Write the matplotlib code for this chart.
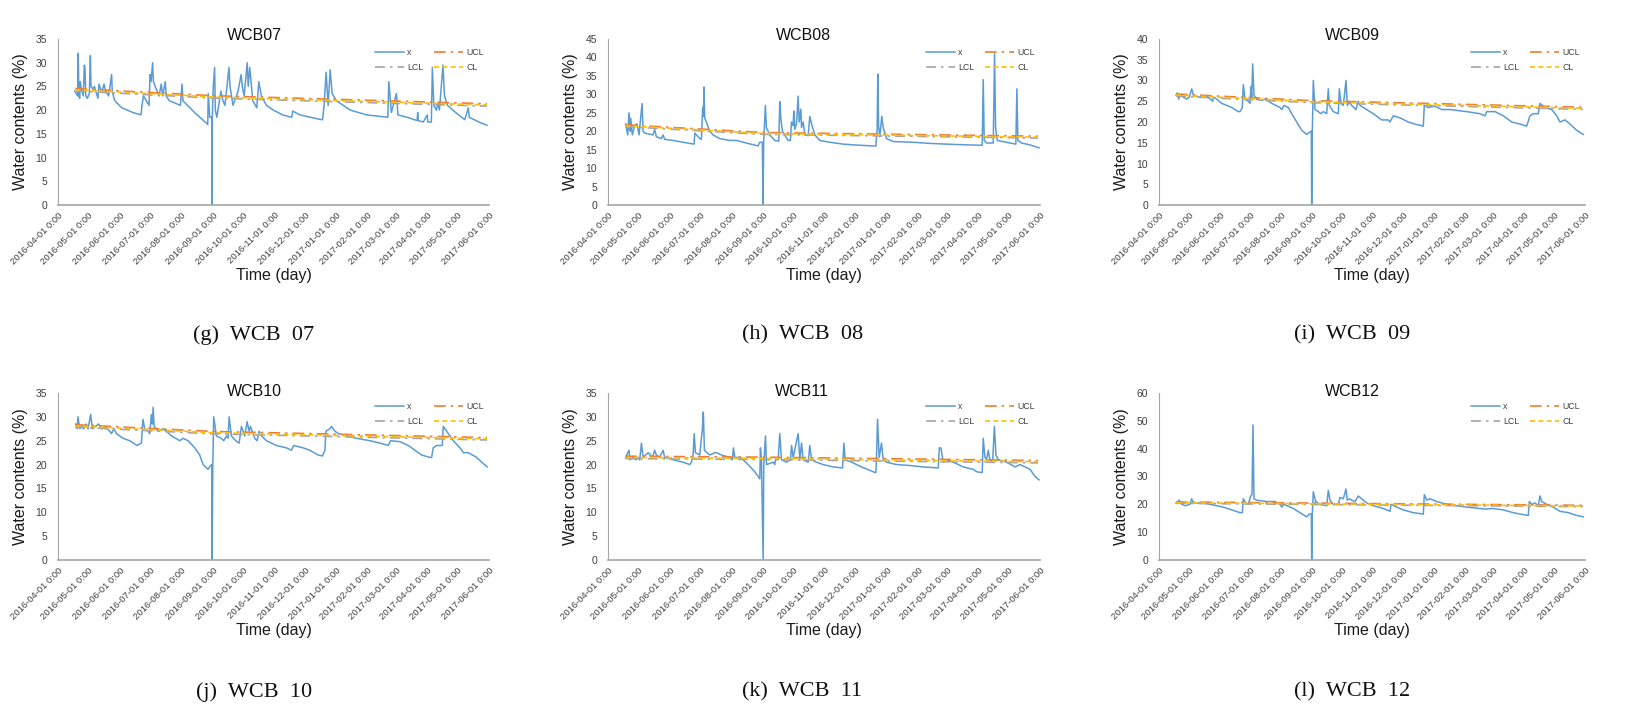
import numpy as np
import matplotlib
matplotlib.use("Agg")
import matplotlib.pyplot as plt

plt.rcParams['font.family'] = ['Liberation Sans', 'DejaVu Sans']

W, H = 1637, 723
t0 = np.datetime64('2016-04-01T00:00')

month_ticks = ['2016-04-01', '2016-05-01', '2016-06-01', '2016-07-01', '2016-08-01',
               '2016-09-01', '2016-10-01', '2016-11-01', '2016-12-01', '2017-01-01',
               '2017-02-01', '2017-03-01', '2017-04-01', '2017-05-01', '2017-06-01']

# days since 2016-04-01, water content (%)
wcb07_days = [16.5, 19.5, 20.0, 20.6, 21.5, 22.0, 23, 25, 26, 26.6, 27.5, 29, 31, 32, 32.6, 34.5, 36, 38,
              39.5, 40.5, 42, 43.5, 45.5, 47, 50, 53, 53.6, 56, 63, 74, 82, 83, 84.5, 90, 91, 92, 93.5,
              94.3, 97, 100, 102, 103.5, 106, 107, 110, 121, 122.6, 123.4, 135, 148, 148.5, 150, 152,
              152.3, 152.6, 153.5, 154.8, 155.5, 157, 161, 163, 165, 169, 170, 173, 178, 181, 182.5,
              184, 187, 188, 189.5, 192.5, 196.5, 198.5, 201, 206, 213, 222, 231, 232, 239, 260,
              261.5, 263, 265, 267, 269, 271, 275, 289, 305, 326, 327, 329.5, 334.5, 336, 345, 355,
              355.5, 356, 361, 365, 365.5, 369, 370, 371.5, 374, 375.5, 377, 380.5, 382, 385, 393,
              402, 403.5, 405.5, 406.5, 416, 424]
wcb07_vals = [24.0, 23.0, 32.0, 23.0, 22.5, 26.0, 24.5, 23.0, 29.5, 29.0, 23.0, 22.5, 23.5, 31.5, 25.0,
              24.5, 25.0, 23.5, 22.5, 25.5, 24.5, 24.0, 25.5, 24.0, 23.0, 27.5, 24.0, 22.0, 20.5, 19.5,
              19.0, 21.0, 23.0, 21.0, 27.5, 26.0, 30.0, 26.0, 24.5, 23.0, 25.5, 23.0, 26.0, 23.0, 22.0,
              21.0, 25.5, 22.0, 19.5, 17.0, 23.5, 18.5, 18.5, 0.0, 19.0, 25.0, 29.0, 20.0, 18.5, 24.0,
              22.0, 21.0, 29.0, 25.0, 21.0, 24.0, 27.5, 24.5, 23.0, 30.0, 25.0, 29.0, 22.0, 20.5, 26.0,
              23.0, 21.0, 20.0, 19.0, 18.5, 19.8, 19.0, 18.0, 18.0, 21.0, 28.0, 21.0, 28.5, 23.5, 22.0,
              20.0, 19.0, 18.5, 26.0, 19.5, 23.5, 19.0, 18.5, 17.8, 19.5, 17.8, 17.5, 19.0, 17.5, 17.5,
              29.0, 21.0, 20.0, 21.5, 20.0, 29.5, 23.0, 21.0, 19.5, 18.0, 19.0, 20.5, 18.5, 17.5, 16.8]

wcb08_days = [17.4, 19.5, 20.7, 22.0, 22.4, 24.0, 26.3, 28.6, 30.6, 33.6, 34.6, 36.2, 44.4, 46.0, 47.7,
              52.6, 54.3, 55.9, 64.2, 74.0, 84.9, 85.6, 90.5, 92.1, 93.4, 94.1, 94.7, 95.4, 97.0, 100.3,
              103.6, 110.2, 120.0, 126.6, 136.5, 148.0, 149.6, 152.2, 152.9, 153.5, 155.2, 156.2, 159.5,
              164.4, 168.4, 169.4, 170.4, 172.0, 177.6, 179.9, 180.9, 182.6, 183.2, 184.2, 185.9, 187.5,
              188.5, 190.2, 190.8, 192.5, 194.1, 197.4, 199.0, 200.7, 204.0, 208.9, 218.8, 231.9, 241.8,
              261.5, 264.1, 265.4, 266.1, 266.8, 268.0, 270.0, 271.4, 274.7, 281.2, 301.0, 317.4, 333.9,
              353.6, 369.0, 370.0, 371.0, 373.3, 379.9, 381.2, 382.2, 383.8, 393.0, 402.2, 403.2, 404.2,
              407.8, 416.0, 425.0]
wcb08_vals = [22.0, 19.0, 25.0, 20.0, 23.5, 19.0, 21.5, 22.0, 19.0, 27.5, 20.0, 19.5, 19.0, 20.5, 18.5,
              18.0, 19.0, 17.8, 17.5, 17.0, 16.5, 19.5, 18.0, 17.8, 26.5, 24.0, 32.0, 23.5, 22.5, 20.0,
              19.0, 18.0, 17.5, 17.5, 16.8, 16.0, 17.0, 17.0, 0.0, 17.0, 27.0, 21.0, 19.0, 17.5, 17.3,
              28.0, 23.5, 20.0, 17.5, 17.5, 22.5, 21.5, 25.5, 20.5, 22.0, 29.5, 22.5, 26.0, 21.0, 22.5,
              19.0, 18.8, 24.0, 22.0, 19.0, 17.5, 17.0, 16.5, 16.3, 16.0, 16.0, 20.5, 35.5, 21.5, 18.5,
              24.0, 21.0, 18.0, 17.2, 17.0, 16.7, 16.5, 16.3, 16.2, 34.0, 17.5, 16.8, 16.8, 41.0, 21.0,
              17.5, 17.0, 16.5, 31.5, 17.5, 16.8, 16.3, 15.5]

wcb09_days = [17.0, 18.3, 19.7, 21.0, 24.3, 27.7, 30.3, 32.7, 34.3, 39.3, 47.7, 53.7, 54.3, 57.7, 62.7,
              67.7, 72.7, 79.3, 81.0, 83.3, 84.3, 86.0, 89.3, 91.0, 92.0, 92.7, 93.7, 95.0, 97.7, 102.7,
              106.0, 112.7, 121.0, 122.7, 125.0, 129.3, 132.7, 137.7, 142.7, 147.7, 150.3, 152.3, 152.7,
              153.3, 154.3, 156.0, 159.3, 161.7, 164.3, 167.7, 169.3, 170.3, 174.3, 179.3, 180.3, 182.0,
              184.3, 187.0, 188.3, 190.3, 192.7, 197.0, 199.3, 201.0, 207.7, 214.3, 222.7, 229.3, 231.0,
              234.3, 241.0, 249.3, 256.0, 264.3, 265.3, 269.3, 276.0, 282.7, 291.0, 307.7, 321.0, 326.0,
              327.7, 336.0, 344.3, 352.7, 361.0, 367.7, 371.0, 374.3, 379.3, 381.0, 386.0, 392.7, 397.7,
              401.0, 406.0, 411.0, 417.7, 424.3]
wcb09_vals = [26.5, 27.0, 25.5, 26.5, 26.0, 25.5, 26.0, 28.0, 26.5, 26.0, 26.3, 25.0, 26.0, 25.5, 24.5,
              24.0, 23.5, 22.5, 22.5, 23.5, 29.0, 25.5, 25.0, 24.5, 28.5, 26.0, 34.0, 26.5, 25.5, 25.2,
              25.5, 24.5, 23.5, 23.0, 24.0, 23.5, 22.0, 20.0, 18.0, 17.0, 17.5, 17.8, 0.0, 17.5, 30.0,
              23.0, 22.5, 22.0, 22.5, 22.0, 28.0, 24.0, 22.5, 22.0, 28.0, 24.5, 24.0, 30.0, 24.0, 25.0,
              24.0, 23.0, 25.0, 24.0, 23.0, 22.0, 20.5, 20.5, 20.0, 21.5, 21.0, 20.0, 19.5, 19.0, 24.0,
              23.5, 23.8, 23.0, 23.0, 22.5, 22.0, 21.5, 22.5, 22.5, 21.5, 20.0, 19.5, 19.0, 21.5, 22.0,
              22.0, 24.5, 23.5, 23.0, 21.5, 20.0, 20.5, 19.5, 18.0, 17.0]

wcb10_days = [17.5, 18.8, 19.8, 21.4, 23.1, 25.4, 28.0, 29.7, 32.3, 34.0, 40.2, 42.9, 46.2, 51.1, 52.8,
              55.4, 57.7, 64.3, 70.9, 78.1, 82.4, 84.0, 85.7, 89.0, 90.7, 92.3, 93.3, 94.0, 95.0, 98.9,
              103.9, 107.2, 112.1, 120.4, 123.6, 128.6, 135.2, 140.1, 143.4, 148.4, 150.7, 152.0, 152.3,
              153.0, 153.9, 156.6, 161.5, 163.8, 166.5, 168.1, 169.1, 171.4, 175.7, 179.0, 181.3, 184.6,
              186.9, 188.9, 190.2, 194.5, 196.8, 198.8, 201.1, 206.0, 215.9, 225.8, 230.7, 233.0, 242.3,
              248.9, 257.1, 261.4, 263.8, 264.8, 268.7, 270.4, 273.7, 277.0, 285.2, 295.1, 308.3, 318.2,
              326.4, 328.7, 337.9, 346.2, 352.8, 359.4, 367.6, 369.3, 370.9, 374.2, 379.8, 380.8, 384.1,
              390.7, 397.3, 400.6, 405.5, 413.8, 418.7, 424.3]
wcb10_vals = [28.5, 27.5, 30.0, 27.5, 28.0, 27.5, 28.5, 27.5, 30.5, 27.5, 28.5, 27.5, 28.0, 27.0, 26.5,
              27.5, 26.5, 25.5, 25.0, 24.0, 24.5, 29.5, 27.5, 27.0, 26.5, 30.5, 28.5, 32.0, 28.0, 27.0,
              27.5, 27.0, 26.0, 25.0, 25.5, 25.0, 23.5, 22.0, 20.0, 19.0, 19.8, 20.0, 0.0, 20.0, 30.0,
              26.0, 25.5, 25.0, 26.0, 25.5, 30.0, 26.0, 25.0, 24.5, 28.0, 26.0, 29.0, 27.0, 28.0, 25.5,
              25.0, 27.0, 26.0, 25.0, 24.0, 23.5, 23.0, 24.0, 23.5, 23.0, 22.0, 21.8, 23.0, 27.0, 27.5,
              28.0, 27.0, 26.5, 26.0, 25.5, 25.0, 24.5, 24.0, 25.0, 24.8, 24.0, 23.0, 22.0, 21.5, 21.5,
              23.5, 24.0, 24.0, 28.0, 27.0, 25.0, 23.5, 22.5, 22.5, 21.5, 20.5, 19.5]

wcb11_days = [17.4, 20.7, 21.4, 24.7, 28.0, 29.6, 31.3, 33.0, 34.6, 39.6, 41.9, 43.8, 46.0, 47.7, 51.0,
              54.3, 55.9, 64.2, 74.0, 80.6, 82.3, 83.9, 85.0, 86.2, 90.5, 92.1, 93.1, 94.0, 95.1, 100.3,
              105.3, 106.9, 111.9, 120.1, 122.7, 123.7, 125.0, 130.0, 133.2, 138.2, 144.7, 149.7, 150.3,
              151.3, 153.0, 153.6, 155.3, 156.3, 162.9, 164.5, 165.5, 167.8, 169.4, 171.1, 176.0, 180.0,
              181.0, 182.6, 187.5, 189.2, 190.8, 192.5, 197.4, 199.0, 200.7, 205.6, 212.2, 222.1, 231.3,
              232.6, 233.9, 240.2, 250.0, 261.5, 264.1, 264.8, 265.8, 267.4, 269.7, 271.4, 274.7, 284.5,
              297.7, 310.9, 325.7, 326.7, 328.3, 330.6, 333.9, 340.5, 350.4, 360.2, 363.5, 369.0, 370.0,
              371.7, 373.3, 375.0, 376.6, 379.3, 381.0, 382.6, 384.9, 393.1, 401.4, 406.3, 416.2, 421.1,
              425.0]
wcb11_vals = [21.5, 23.0, 21.0, 21.5, 21.0, 21.5, 21.0, 24.5, 21.5, 22.5, 22.0, 21.5, 23.0, 22.0, 21.5,
              23.0, 21.5, 21.0, 20.5, 20.0, 20.5, 22.0, 26.5, 22.5, 22.0, 25.5, 27.5, 31.0, 23.0, 22.0,
              22.5, 22.5, 22.0, 21.5, 21.0, 23.5, 21.5, 21.5, 21.0, 20.0, 18.5, 17.0, 23.5, 21.0, 0.0,
              20.0, 26.0, 20.0, 20.5, 20.0, 21.5, 21.0, 26.5, 21.0, 20.5, 21.0, 24.0, 21.5, 26.5, 21.0,
              24.5, 21.0, 20.5, 24.0, 21.0, 20.5, 20.0, 19.5, 19.3, 24.5, 21.0, 20.5, 19.5, 18.5, 18.3,
              21.5, 29.5, 21.5, 24.5, 21.0, 20.5, 20.0, 19.8, 19.5, 19.3, 23.5, 23.5, 20.5, 21.0, 20.5,
              19.5, 19.0, 18.5, 18.3, 25.5, 21.5, 21.0, 23.0, 21.0, 20.5, 28.0, 22.0, 21.0, 20.5, 19.5,
              20.0, 19.0, 17.5, 16.8]

wcb12_days = [17.0, 20.3, 22.7, 26.0, 31.0, 32.7, 34.3, 44.3, 51.0, 57.7, 64.3, 72.7, 81.0, 83.3, 84.3,
              86.7, 89.3, 91.7, 93.0, 94.0, 95.0, 97.7, 107.7, 116.0, 121.0, 122.7, 125.0, 134.3, 141.0,
              147.7, 150.3, 152.3, 152.7, 153.3, 154.3, 156.7, 161.0, 167.7, 169.3, 171.0, 174.3, 179.3,
              181.0, 184.3, 187.0, 188.3, 190.3, 192.7, 196.0, 199.3, 202.7, 207.7, 214.3, 224.3, 231.0,
              232.0, 237.7, 244.3, 254.3, 264.3, 265.3, 267.7, 271.0, 277.7, 287.7, 297.7, 307.7, 321.0,
              326.0, 334.3, 344.3, 354.3, 361.0, 369.3, 370.3, 372.7, 376.0, 379.3, 381.0, 382.7, 387.7,
              394.3, 401.0, 409.3, 417.7, 424.3]
wcb12_vals = [20.5, 21.5, 20.0, 19.5, 20.0, 22.0, 20.5, 20.5, 20.0, 19.5, 19.0, 18.0, 17.0, 17.0, 22.0,
              20.5, 20.0, 23.0, 23.5, 48.5, 22.0, 21.5, 21.0, 21.0, 20.0, 19.0, 20.0, 18.5, 17.0, 15.5,
              16.5, 16.5, 0.0, 16.5, 24.5, 21.0, 20.0, 19.5, 25.0, 21.5, 20.0, 20.0, 22.5, 22.0, 25.5,
              21.5, 22.0, 21.5, 21.0, 23.0, 22.0, 20.5, 19.5, 18.5, 17.5, 20.0, 19.0, 18.0, 17.0, 16.5,
              23.5, 21.5, 22.0, 21.0, 20.0, 19.5, 19.0, 18.5, 18.3, 18.5, 18.0, 17.0, 16.5, 16.0, 21.0,
              20.0, 20.5, 19.5, 23.0, 21.0, 20.0, 19.0, 17.5, 17.0, 16.0, 15.5]

# control lines: start, Sept-01, end
ctrl_days = [17, 152, 424]
wcb07_cl = [24.3, 22.8, 21.1]
wcb08_cl = [21.5, 19.4, 18.4]
wcb09_cl = [26.5, 24.9, 23.3]
wcb10_cl = [28.1, 26.7, 25.4]
wcb11_cl = [21.5, 21.3, 20.6]
wcb12_cl = [20.6, 20.2, 19.4]
ucl_offset = 0.25
lcl_offset = -0.25

names = ['WCB07', 'WCB08', 'WCB09', 'WCB10', 'WCB11', 'WCB12']
captions = ['(g)  WCB  07', '(h)  WCB  08', '(i)  WCB  09',
            '(j)  WCB  10', '(k)  WCB  11', '(l)  WCB  12']
y_max = [35, 45, 40, 35, 35, 60]
y_step = [5, 5, 5, 5, 5, 10]
series = [(wcb07_days, wcb07_vals, wcb07_cl), (wcb08_days, wcb08_vals, wcb08_cl),
          (wcb09_days, wcb09_vals, wcb09_cl), (wcb10_days, wcb10_vals, wcb10_cl),
          (wcb11_days, wcb11_vals, wcb11_cl), (wcb12_days, wcb12_vals, wcb12_cl)]

# axes boxes in pixels: left, right, top, bottom
boxes = [(58, 489, 39, 205), (608, 1040, 39, 205), (1159, 1585, 39, 205),
         (58, 489, 393, 560), (608, 1040, 393, 560), (1159, 1585, 393, 560)]
title_xy = [(254, 36), (803, 36), (1352, 36), (254, 391), (802, 391), (1352, 391)]
caption_xy = [(254, 335), (803, 335), (1352, 335), (254, 692), (802, 692), (1352, 692)]


def to_dates(days):
    return t0 + (np.array(days) * 24 * 60).astype('timedelta64[m]')


fig = plt.figure(figsize=(W / 100, H / 100), dpi=100)

tick_dates = [np.datetime64(d + 'T00:00') for d in month_ticks]
tick_labels = [d + ' 0:00' for d in month_ticks]

for i in range(6):
    l, r, t, b = boxes[i]
    ax = fig.add_axes([l / W, 1 - b / H, (r - l) / W, (b - t) / H])
    days, vals, cl = series[i]
    cl = np.array(cl)

    h_x, = ax.plot(to_dates(days), vals, color='#5B9BD5', lw=1.1, label='x')
    cd = to_dates(ctrl_days)
    h_u, = ax.plot(cd, cl + ucl_offset, color='#ED7D31', lw=1.2,
                   linestyle=(0, (7, 3, 1.5, 3)), label='UCL')
    h_l, = ax.plot(cd, cl + lcl_offset, color='#A5A5A5', lw=1.2,
                   linestyle=(0, (6, 3, 1.5, 3)), label='LCL')
    h_c, = ax.plot(cd, cl, color='#FFC000', lw=1.2, linestyle=(0, (3, 2)), label='CL')

    ax.set_xlim(tick_dates[0], tick_dates[-1])
    ax.set_ylim(0, y_max[i])
    ax.set_yticks(np.arange(0, y_max[i] + 1, y_step[i]))
    ax.set_xticks(tick_dates)
    ax.set_xticklabels(tick_labels, rotation=45, ha='right', rotation_mode='anchor',
                       fontsize=6.8, color='#404040')
    ax.tick_params(axis='y', labelsize=7.5, labelcolor='#404040', length=0, pad=8)
    ax.tick_params(axis='x', length=0, pad=4)
    for s in ['top', 'right']:
        ax.spines[s].set_visible(False)
    ax.spines['left'].set_color('#A6A6A6')
    ax.spines['bottom'].set_color('#A6A6A6')
    ax.spines['bottom'].set_linewidth(1.2)

    ax.set_ylabel('Water contents (%)', fontsize=11.5, color='#1a1a1a', labelpad=5)
    ax.set_xlabel('Time (day)', fontsize=11.5, color='#1a1a1a', labelpad=1)

    ax.legend([h_x, h_l, h_u, h_c], ['x', 'LCL', 'UCL', 'CL'], ncol=2, frameon=False,
              fontsize=6.3, loc='upper right', bbox_to_anchor=(1.0, 0.98),
              handlelength=3.3, handletextpad=0.4, columnspacing=1.2,
              labelspacing=0.7, borderaxespad=0.2, labelcolor='#404040')

    tx, ty = title_xy[i]
    fig.text(tx / W, 1 - ty / H, names[i], ha='center', va='center', fontsize=11.5,
             color='#111111')
    cx, cy = caption_xy[i]
    fig.text(cx / W, 1 - cy / H, captions[i], ha='center', va='center', fontsize=16,
             family=['Liberation Serif', 'DejaVu Serif'], color='#111111')

fig.savefig('out.png', dpi=100)
